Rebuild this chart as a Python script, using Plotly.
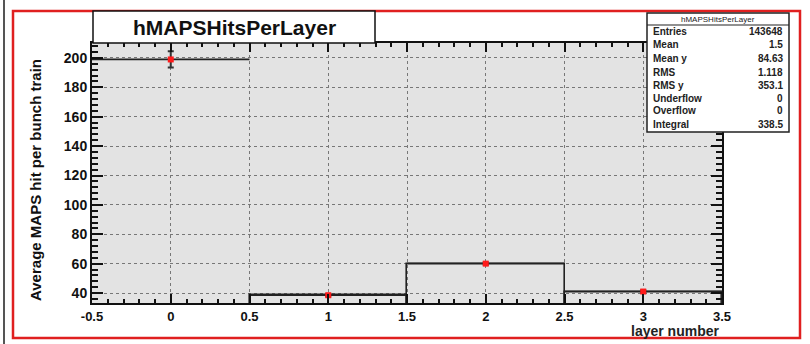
"""
hMAPSHitsPerLayer: average MAPS hits per bunch train, per layer (ROOT-style).
"""

import plotly.graph_objects as go

# dados
camadas = [0, 1, 2, 3]
hits_medios = [199.0, 38.5, 60.0, 41.0]
erros = [5.5, 0.8, 0.8, 0.8]
largura_bin = [1.0, 1.0, 1.0, 1.0]

x_ticks = [-0.5, 0, 0.5, 1, 1.5, 2, 2.5, 3, 3.5]
x_tick_labels = ["-0.5", "0", "0.5", "1", "1.5", "2", "2.5", "3", "3.5"]
y_ticks = [40, 60, 80, 100, 120, 140, 160, 180, 200]

stats_nomes = ["Entries", "Mean", "Mean y", "RMS", "RMS y", "Underflow", "Overflow", "Integral"]
stats_valores = ["143648", "1.5", "84.63", "1.118", "353.1", "0", "0", "338.5"]

W, H = 810, 344
L, R, T, B = 92, 722, 43, 303  # área do gráfico em pixels
FONTE = "Liberation Sans, Arial, sans-serif"


def px_x(p):
    return (p - L) / (R - L)


def px_y(p):
    return (B - p) / (B - T)


def texto(s, x, y, size, xanchor="center", angle=0, bold=True, cor="#111"):
    return dict(
        text=s, x=px_x(x), y=px_y(y), xref="paper", yref="paper",
        xanchor=xanchor, yanchor="middle", textangle=angle, showarrow=False,
        borderpad=0,
        font=dict(family=FONTE, size=size, color=cor, weight="bold" if bold else "normal"),
    )


fig = go.Figure()

# contornos dos bins (o primeiro sem arestas verticais)
fig.add_trace(
    go.Bar(
        x=camadas,
        y=hits_medios,
        width=largura_bin,
        marker=dict(
            color="rgba(0,0,0,0)",
            line=dict(
                color=["rgba(0,0,0,0)", "#222", "#222", "#222"],
                width=1.6,
            ),
        ),
        hoverinfo="skip",
        showlegend=False,
    )
)

# linhas horizontais + pontos vermelhos com barra de erro
fig.add_trace(
    go.Scatter(
        x=camadas,
        y=hits_medios,
        mode="markers",
        marker=dict(color="#ff1a1a", size=6, symbol="square"),
        error_x=dict(type="data", array=[w / 2 for w in largura_bin], width=0, thickness=1.8, color="#222"),
        error_y=dict(type="data", array=erros, width=3, thickness=2, color="#333"),
        showlegend=False,
    )
)

eixo_comum = dict(
    showline=True,
    linecolor="#111",
    linewidth=2,
    mirror="ticks",
    ticks="inside",
    tickcolor="#111",
    tickwidth=1.5,
    showgrid=True,
    gridcolor="#777",
    griddash="dot",
    gridwidth=1,
    zeroline=False,
    tickfont=dict(family=FONTE, size=14, color="#111", weight="bold"),
)

fig.update_xaxes(
    **eixo_comum,
    range=[-0.5, 3.5],
    tickvals=x_ticks,
    ticktext=x_tick_labels,
    ticklen=9,
    minor=dict(dtick=0.1, ticklen=4, ticks="inside", tickcolor="#111", showgrid=False),
)
fig.update_xaxes(tickfont_size=13)
fig.update_yaxes(
    **eixo_comum,
    range=[33.2, 210.2],
    tickvals=y_ticks,
    ticklen=11,
    minor=dict(dtick=4, ticklen=6, ticks="inside", tickcolor="#111", showgrid=False),
)

shapes = [
    # moldura vermelha
    dict(type="rect", xref="paper", yref="paper",
         x0=px_x(13), x1=px_x(800), y0=px_y(338), y1=px_y(11),
         line=dict(color="#e02020", width=2.5), layer="below"),
    # borda da janela à esquerda
    dict(type="line", xref="paper", yref="paper",
         x0=px_x(4), x1=px_x(4), y0=px_y(344), y1=px_y(0),
         line=dict(color="#555", width=2)),
    # caixa do título
    dict(type="rect", xref="paper", yref="paper",
         x0=px_x(93), x1=px_x(375), y0=px_y(43), y1=px_y(11),
         line=dict(color="#111", width=1.5), fillcolor="white"),
    # caixa de estatísticas
    dict(type="rect", xref="paper", yref="paper",
         x0=px_x(647), x1=px_x(789), y0=px_y(132), y1=px_y(13),
         line=dict(color="#222", width=1.5), fillcolor="white"),
    dict(type="line", xref="paper", yref="paper",
         x0=px_x(647), x1=px_x(789), y0=px_y(25), y1=px_y(25),
         line=dict(color="#222", width=1.2)),
]

anotacoes = [
    texto("hMAPSHitsPerLayer", 234, 27, 21),
    texto("hMAPSHitsPerLayer", 718, 19, 8, bold=False, cor="#222"),
    texto("layer number", 720, 331, 14, xanchor="right", cor="#222"),
    texto("Average MAPS hit per bunch train", 35, 180, 15, angle=-90),
]

linhas_y = [32, 44, 58, 72, 85, 98, 111, 124]
for nome, valor, py in zip(stats_nomes, stats_valores, linhas_y):
    anotacoes.append(texto(nome, 652, py, 10, xanchor="left", cor="#222"))
    anotacoes.append(texto(valor, 784, py, 10, xanchor="right", cor="#222"))

fig.update_layout(
    width=W,
    height=H,
    margin=dict(l=L, r=W - R, t=T, b=H - B),
    plot_bgcolor="#e3e3e3",
    paper_bgcolor="white",
    bargap=0,
    shapes=shapes,
    annotations=anotacoes,
    showlegend=False,
)

# sem a margem padrão do <body>, para ocupar a janela inteira
fig.write_html(
    "out.html",
    config={"displayModeBar": False},
    post_script="document.body.style.margin='0';",
)
